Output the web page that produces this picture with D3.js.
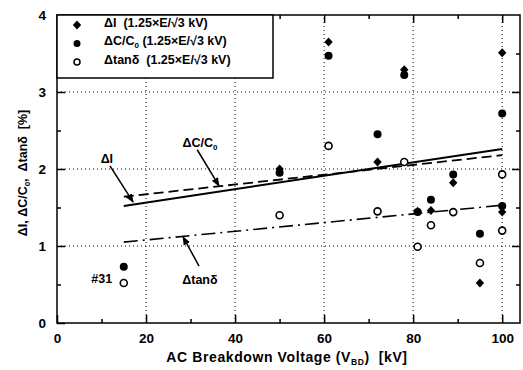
<!DOCTYPE html>
<html>
<head>
<meta charset="utf-8">
<script src="https://cdn.jsdelivr.net/npm/d3@7"></script>
<style>
  body { margin: 0; background: #fff; }
  svg { display: block; font-family: "Liberation Sans", Arial, sans-serif; font-weight: bold; }
</style>
</head>
<body>
<div id="chart"></div>
<script>
// data
const dIx = [50, 61, 72, 78, 81, 84, 89, 95, 100, 100];
const dIy = [2.0, 3.65, 2.09, 3.29, 1.45, 1.46, 1.82, 0.52, 3.51, 1.44];
const dCx = [15, 50, 61, 72, 78, 81, 84, 89, 95, 100, 100];
const dCy = [0.73, 1.95, 3.47, 2.45, 3.22, 1.44, 1.60, 1.93, 1.16, 2.72, 1.52];
const tanx = [15, 50, 61, 72, 78, 81, 84, 89, 95, 100, 100];
const tany = [0.52, 1.40, 2.30, 1.45, 2.09, 0.99, 1.27, 1.44, 0.78, 1.93, 1.20];
// fitted lines (end points)
const lineI = [[15, 1.52], [100, 2.26]];
const lineC = [[15, 1.64], [100, 2.18]];
const lineT = [[15, 1.05], [100, 1.53]];
const xTicks = [0, 20, 40, 60, 80, 100];
const yTicks = [0, 1, 2, 3, 4];

const W = 523, H = 370;
const svg = d3.select("#chart").append("svg").attr("width", W).attr("height", H);

const x = d3.scaleLinear().domain([0, 104]).range([57, 520]);
const y = d3.scaleLinear().domain([0, 4]).range([323, 15]);

const defs = svg.append("defs");
defs.append("marker").attr("id", "arr").attr("viewBox", "0 0 10 10")
  .attr("refX", 9).attr("refY", 5).attr("markerWidth", 9).attr("markerHeight", 9)
  .attr("markerUnits", "userSpaceOnUse").attr("orient", "auto")
  .append("path").attr("d", "M0,1 L10,5 L0,9 Z").attr("fill", "#000");

// grid
const grid = svg.append("g").attr("stroke", "#000").attr("stroke-width", 1).attr("stroke-dasharray", "1,3");
grid.selectAll("line.gx").data([20, 40, 60, 80, 100]).join("line")
  .attr("x1", d => x(d)).attr("x2", d => x(d)).attr("y1", y(0)).attr("y2", y(4));
grid.selectAll("line.gy").data([1, 2, 3]).join("line").attr("class", "gy")
  .attr("x1", x(0)).attr("x2", x(104)).attr("y1", d => y(d)).attr("y2", d => y(d));

// axes
const gx = svg.append("g").attr("transform", `translate(0,${y(0)})`)
  .call(d3.axisBottom(x).tickValues(xTicks).tickSize(-8).tickPadding(10).tickFormat(d3.format("d")));
const gxm = svg.append("g").attr("transform", `translate(0,${y(0)})`)
  .call(d3.axisBottom(x).tickValues([10, 30, 50, 70, 90]).tickSize(-4).tickFormat(""));
const gxt = svg.append("g").attr("transform", `translate(0,${y(4)})`)
  .call(d3.axisTop(x).tickValues([20, 40, 60, 80, 100]).tickSize(-8).tickFormat(""));
const gxtm = svg.append("g").attr("transform", `translate(0,${y(4)})`)
  .call(d3.axisTop(x).tickValues([10, 30, 50, 70, 90]).tickSize(-4).tickFormat(""));
const gy = svg.append("g").attr("transform", `translate(${x(0)},0)`)
  .call(d3.axisLeft(y).tickValues(yTicks).tickSize(-8).tickPadding(11).tickFormat(d3.format("d")));
const gym = svg.append("g").attr("transform", `translate(${x(0)},0)`)
  .call(d3.axisLeft(y).tickValues([0.5, 1.5, 2.5, 3.5]).tickSize(-4).tickFormat(""));
const gyr = svg.append("g").attr("transform", `translate(${x(104)},0)`)
  .call(d3.axisRight(y).tickValues([1, 2, 3]).tickSize(-8).tickFormat(""));
const gyrm = svg.append("g").attr("transform", `translate(${x(104)},0)`)
  .call(d3.axisRight(y).tickValues([0.5, 1.5, 2.5, 3.5]).tickSize(-4).tickFormat(""));
[gx, gxm, gxt, gxtm, gy, gym, gyr, gyrm].forEach(g => {
  g.select(".domain").remove();
  g.selectAll("line").attr("stroke", "#000").attr("stroke-width", 1.5);
  g.selectAll("text").attr("font-size", 13.5).attr("font-weight", "bold").attr("fill", "#000")
    .attr("font-family", "Liberation Sans, Arial, sans-serif");
});

// frame
svg.append("rect").attr("x", x(0)).attr("y", y(4))
  .attr("width", x(104) - x(0)).attr("height", y(0) - y(4))
  .attr("fill", "none").attr("stroke", "#000").attr("stroke-width", 1.5);

// fitted lines
const line = d3.line().x(d => x(d[0])).y(d => y(d[1]));
svg.append("path").attr("d", line(lineI)).attr("stroke", "#000").attr("stroke-width", 2).attr("fill", "none");
svg.append("path").attr("d", line(lineC)).attr("stroke", "#000").attr("stroke-width", 1.8)
  .attr("stroke-dasharray", "10,5").attr("fill", "none");
svg.append("path").attr("d", line(lineT)).attr("stroke", "#000").attr("stroke-width", 1.6)
  .attr("stroke-dasharray", "14,5,2,5").attr("fill", "none");

// points
const diamond = "M0,-4.5L4.2,0L0,4.5L-4.2,0Z";
svg.append("g").selectAll("path").data(dIx).join("path")
  .attr("d", diamond).attr("transform", (d, i) => `translate(${x(d)},${y(dIy[i])})`).attr("fill", "#000");
svg.append("g").selectAll("circle").data(dCx).join("circle")
  .attr("cx", d => x(d)).attr("cy", (d, i) => y(dCy[i])).attr("r", 4).attr("fill", "#000");
svg.append("g").selectAll("circle").data(tanx).join("circle")
  .attr("cx", d => x(d)).attr("cy", (d, i) => y(tany[i])).attr("r", 3.5)
  .attr("fill", "#fff").attr("stroke", "#000").attr("stroke-width", 1.6);

// annotations
const notes = [
  { t: "ΔI", lx: 11.2, ly: 2.14, anchor: "middle", a: [[11.9, 2.04], [17.1, 1.57]] },
  { t: "ΔC/C", sub: "0", lx: 32.1, ly: 2.34, anchor: "middle", a: [[31.5, 2.25], [36.4, 1.78]] },
  { t: "Δtanδ", lx: 32.1, ly: 0.57, anchor: "middle", a: [[31.9, 0.74], [28.3, 1.12]] },
  { t: "#31", lx: 12.4, ly: 0.58, anchor: "end", a: null }
];
notes.forEach(n => {
  const tx = svg.append("text").attr("x", x(n.lx)).attr("y", y(n.ly) + 4.5)
    .attr("text-anchor", n.anchor).attr("font-size", 12.5).text(n.t);
  if (n.sub) tx.append("tspan").attr("font-size", 8).attr("dy", 3).text(n.sub);
  if (n.a) svg.append("line").attr("x1", x(n.a[0][0])).attr("y1", y(n.a[0][1]))
    .attr("x2", x(n.a[1][0])).attr("y2", y(n.a[1][1]))
    .attr("stroke", "#000").attr("stroke-width", 1.5).attr("marker-end", "url(#arr)");
});

// legend
const lg = svg.append("g");
lg.append("rect").attr("x", x(0)).attr("y", y(4)).attr("width", 216).attr("height", 63)
  .attr("fill", "#fff").attr("stroke", "#000").attr("stroke-width", 1.5);
const rows = [
  { sym: "d", parts: [["ΔI  (1.25×E/√3 kV)"]] },
  { sym: "f", parts: [["ΔC/C"], ["0", "sub"], [" (1.25×E/√3 kV)"]] },
  { sym: "o", parts: [["Δtanδ  (1.25×E/√3 kV)"]] }
];
rows.forEach((r, i) => {
  const cy = 25 + i * 18.5, sx = 77;
  if (r.sym === "d") lg.append("path").attr("d", diamond).attr("transform", `translate(${sx},${cy})`);
  if (r.sym === "f") lg.append("circle").attr("cx", sx).attr("cy", cy).attr("r", 3.5);
  if (r.sym === "o") lg.append("circle").attr("cx", sx).attr("cy", cy).attr("r", 3)
    .attr("fill", "#fff").attr("stroke", "#000").attr("stroke-width", 1.5);
  const t = lg.append("text").attr("x", 104).attr("y", cy + 4.5).attr("font-size", 12.5)
    .style("white-space", "pre");
  r.parts.forEach(p => {
    if (p[1] === "sub") t.append("tspan").attr("font-size", 8).attr("dy", 3).text(p[0]);
    else t.append("tspan").attr("dy", t.selectAll("tspan").size() ? -3 : 0).text(p[0]);
  });
});

// axis titles
svg.append("text").attr("x", 287).attr("y", 362).attr("text-anchor", "middle").attr("font-size", 14)
  .attr("letter-spacing", 0.6).style("white-space", "pre")
  .call(t => {
    t.append("tspan").text("AC Breakdown Voltage (V");
    t.append("tspan").attr("font-size", 8.5).attr("dy", 3).text("BD");
    t.append("tspan").attr("dy", -3).text(")  [kV]");
  });
svg.append("text").attr("transform", `translate(27,${y(2) + 4}) rotate(-90)`).attr("text-anchor", "middle")
  .attr("font-size", 12.5).style("white-space", "pre")
  .call(t => {
    t.append("tspan").text("ΔI, ΔC/C");
    t.append("tspan").attr("font-size", 8).attr("dy", 3).text("0");
    t.append("tspan").attr("dy", -3).text(",  Δtanδ  [%]");
  });
</script>
</body>
</html>
